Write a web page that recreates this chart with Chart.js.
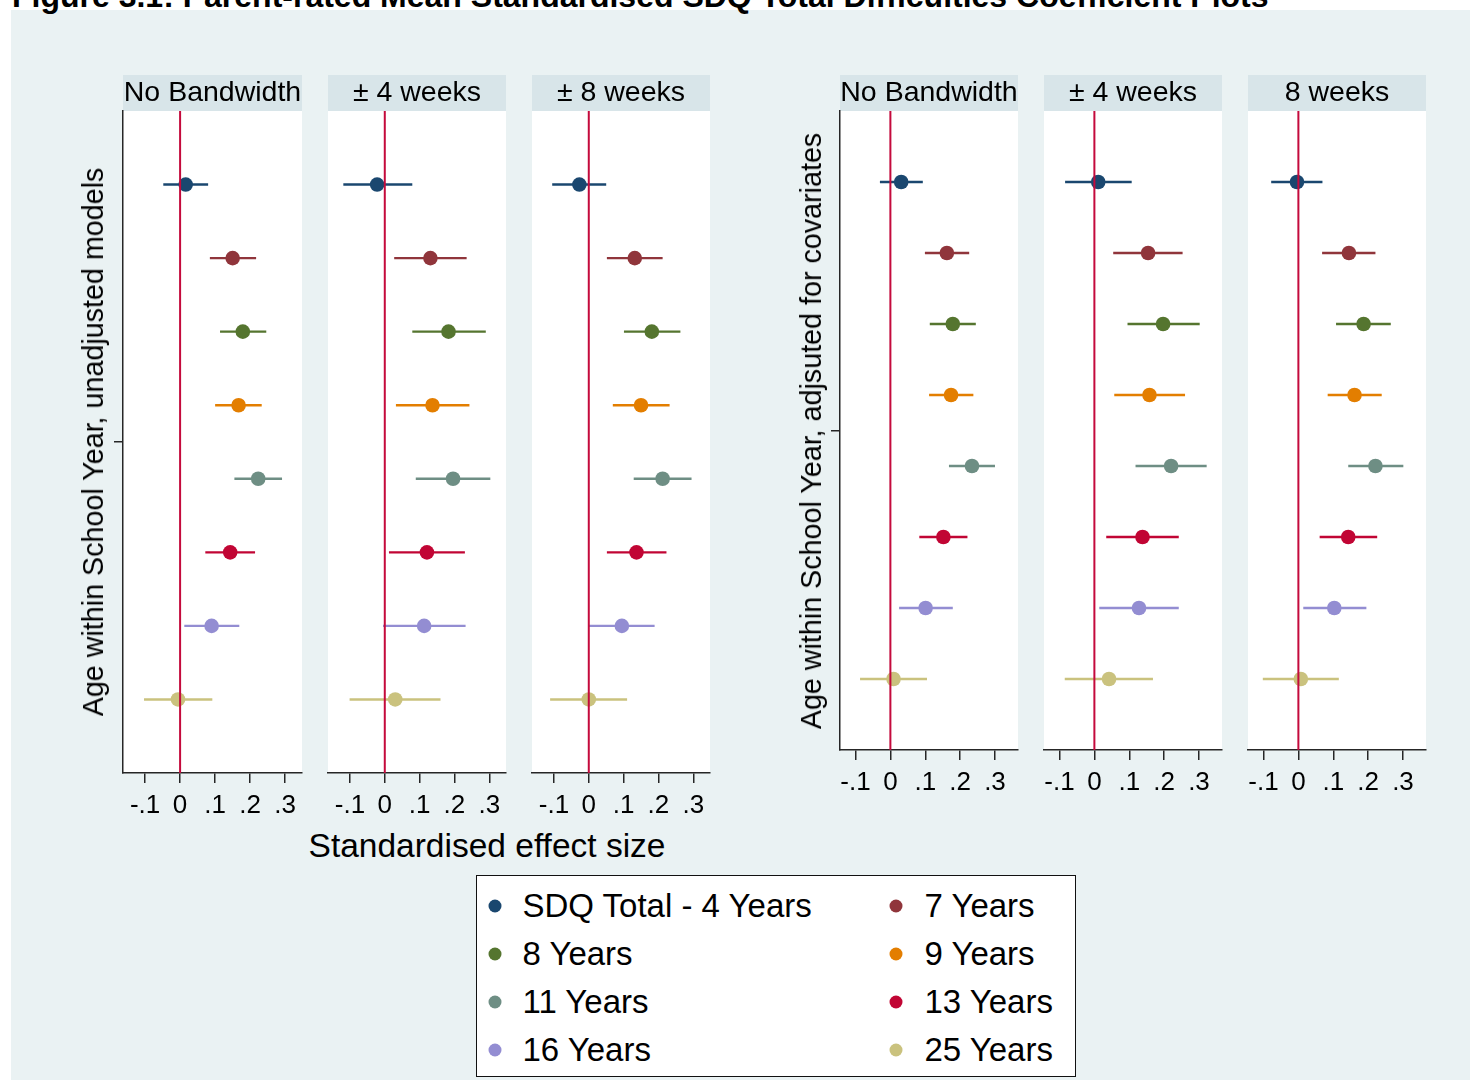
<!DOCTYPE html>
<html>
<head>
<meta charset="utf-8">
<title>Parent-rated Mean Standardised SDQ Total Difficulties Coefficient Plots</title>
<script src="https://cdn.jsdelivr.net/npm/chart.js@4.4.1/dist/chart.umd.min.js"></script>
<style>
  html, body { margin: 0; padding: 0; width: 1470px; height: 1080px; overflow: hidden; background: #ffffff;
    font-family: "Liberation Sans", Arial, Helvetica, sans-serif; color: #000; }
  #bg { position: absolute; left: 11px; top: 10px; width: 1459px; height: 1070px; background: #eaf2f3; }
  #title { position: absolute; left: 12px; top: -20px; font-weight: bold; font-size: 32px; line-height: 32px; white-space: nowrap; }
  canvas { position: absolute; }
  .ytitle { position: absolute; font-size: 28.7px; line-height: 30px; white-space: nowrap;
    transform: translate(-50%, -50%) rotate(-90deg); }
  #xtitle { position: absolute; left: 487px; top: 846px; font-size: 33.5px; line-height: 36px; white-space: nowrap;
    transform: translate(-50%, -50%); }
  #legend { position: absolute; left: 476px; top: 875px; width: 600px; height: 202px; box-sizing: border-box;
    border: 1.5px solid #111; background: #ffffff; }
  .key { position: absolute; font-size: 33px; line-height: 36px; white-space: nowrap; transform: translateY(-50%); }
  .dot { position: absolute; width: 13px; height: 13px; border-radius: 50%; transform: translate(-50%, -50%); }
</style>
</head>
<body>
<div id="bg"></div>
<div id="title">Figure 3.1: Parent-rated Mean Standardised SDQ Total Difficulties Coefficient Plots</div>

<canvas id="u0"></canvas><canvas id="u1"></canvas><canvas id="u2"></canvas>
<canvas id="a0"></canvas><canvas id="a1"></canvas><canvas id="a2"></canvas>

<div class="ytitle" style="left:93px; top:442px;">Age within School Year, unadjusted models</div>
<div class="ytitle" style="left:811px; top:431px;">Age within School Year, adjsuted for covariates</div>
<div id="xtitle">Standardised effect size</div>
<div id="legend"></div>

<script>
// Cohorts (outcome age) shown as rows, top to bottom
const cohorts = ['SDQ Total - 4 Years', '7 Years', '8 Years', '9 Years', '11 Years', '13 Years', '16 Years', '25 Years'];

// Strip titles
const unadjTitles = ['No Bandwidth', '\u00b1 4 weeks', '\u00b1 8 weeks'];
const adjTitles = ['No Bandwidth', '\u00b1 4 weeks', '8 weeks'];

// x-axis ticks
const tickValues = [-0.1, 0, 0.1, 0.2, 0.3];
const tickLabels = ['-.1', '0', '.1', '.2', '.3'];

// Unadjusted models: point estimates and 95% CI
const unadjNoBwEst = [0.016, 0.150, 0.179, 0.167, 0.223, 0.143, 0.090, -0.006];
const unadjNoBwLo  = [-0.048, 0.085, 0.114, 0.100, 0.155, 0.072, 0.012, -0.103];
const unadjNoBwHi  = [0.080, 0.217, 0.246, 0.233, 0.291, 0.214, 0.169, 0.092];

const unadj4wEst = [-0.022, 0.131, 0.183, 0.137, 0.196, 0.121, 0.113, 0.030];
const unadj4wLo  = [-0.119, 0.027, 0.079, 0.032, 0.089, 0.012, -0.005, -0.101];
const unadj4wHi  = [0.079, 0.235, 0.290, 0.243, 0.303, 0.230, 0.232, 0.160];

const unadj8wEst = [-0.027, 0.132, 0.181, 0.150, 0.212, 0.137, 0.095, 0.000];
const unadj8wLo  = [-0.105, 0.052, 0.101, 0.069, 0.129, 0.052, 0.000, -0.111];
const unadj8wHi  = [0.050, 0.212, 0.263, 0.232, 0.295, 0.223, 0.189, 0.110];

// Models adjusted for covariates
const adjNoBwEst = [0.031, 0.162, 0.179, 0.174, 0.234, 0.152, 0.101, 0.009];
const adjNoBwLo  = [-0.030, 0.099, 0.113, 0.111, 0.168, 0.083, 0.025, -0.087];
const adjNoBwHi  = [0.093, 0.226, 0.245, 0.238, 0.300, 0.221, 0.179, 0.105];

const adj4wEst = [0.011, 0.154, 0.197, 0.158, 0.220, 0.138, 0.128, 0.042];
const adj4wLo  = [-0.084, 0.054, 0.095, 0.057, 0.118, 0.034, 0.014, -0.085];
const adj4wHi  = [0.107, 0.253, 0.302, 0.260, 0.322, 0.242, 0.242, 0.168];

const adj8wEst = [-0.004, 0.145, 0.187, 0.161, 0.221, 0.143, 0.103, 0.007];
const adj8wLo  = [-0.078, 0.068, 0.108, 0.084, 0.143, 0.061, 0.014, -0.102];
const adj8wHi  = [0.069, 0.221, 0.265, 0.239, 0.301, 0.226, 0.195, 0.116];

// Stata s2color palette
const colours = ['#1a476f', '#90353b', '#55752f', '#e37e00', '#6e8e84', '#c10534', '#938dd2', '#cac27e'];
const refLineColour = '#c40a3c';
const axisColour = '#262626';
const stripColour = '#d8e5e9';
const fontFamily = '"Liberation Sans", Arial, Helvetica, sans-serif';

// White plot region plus the title strip above it
const panelDecor = {
  id: 'panelDecor',
  beforeDraw(chart, args, opts) {
    const { ctx, chartArea: a } = chart;
    ctx.save();
    ctx.fillStyle = '#ffffff';
    ctx.fillRect(a.left, a.top, a.right - a.left, a.bottom - a.top);
    ctx.fillStyle = stripColour;
    ctx.fillRect(a.left, a.top - opts.stripHeight, a.right - a.left, opts.stripHeight);
    ctx.fillStyle = '#000000';
    ctx.font = '28.5px ' + fontFamily;
    ctx.textAlign = 'center';
    ctx.textBaseline = 'middle';
    ctx.fillText(opts.text, (a.left + a.right) / 2, a.top - 18);
    ctx.restore();
  }
};

const STRIP_TOP = 75, STRIP_H = 36, Y_GUTTER = 20, X_AXIS_H = 54, RIGHT_PAD = 20;

function makePanel(id, box, est, lo, hi, title, showYAxis) {
  const cv = document.getElementById(id);
  const w = box.right - box.left + Y_GUTTER + RIGHT_PAD;
  const h = box.bottom - STRIP_TOP + X_AXIS_H;
  cv.width = w; cv.height = h;
  cv.style.left = (box.left - Y_GUTTER) + 'px';
  cv.style.top = STRIP_TOP + 'px';
  cv.style.width = w + 'px';
  cv.style.height = h + 'px';

  const datasets = [];
  datasets.push({
    data: [{ x: 0, y: 0 }, { x: 0, y: cohorts.length + 1 }],
    showLine: true, borderColor: refLineColour, borderWidth: 2, pointRadius: 0, order: 0
  });
  cohorts.forEach((c, i) => {
    datasets.push({
      data: [{ x: lo[i], y: i + 1 }, { x: hi[i], y: i + 1 }],
      showLine: true, borderColor: colours[i], borderWidth: 2.4, pointRadius: 0, order: 2
    });
  });
  datasets.push({
    data: est.map((v, i) => ({ x: v, y: i + 1 })),
    pointBackgroundColor: colours, pointBorderWidth: 0, pointRadius: 7.3, order: 1
  });

  new Chart(cv, {
    type: 'scatter',
    data: { datasets },
    options: {
      responsive: false, animation: false, events: [], devicePixelRatio: 1,
      layout: { padding: { top: STRIP_H, right: RIGHT_PAD, left: 0, bottom: 0 } },
      plugins: { legend: { display: false }, tooltip: { enabled: false },
        panelDecor: { text: title, stripHeight: STRIP_H } },
      scales: {
        x: {
          type: 'linear', min: box.xMin, max: box.xMax,
          afterBuildTicks: s => { s.ticks = tickValues.map(v => ({ value: v })); },
          afterFit: s => { s.height = X_AXIS_H; },
          ticks: { autoSkip: false, maxRotation: 0, padding: 6.8, color: '#000',
            font: { family: fontFamily, size: 26 },
            callback: (v, i) => tickLabels[i] },
          grid: { drawOnChartArea: false, drawTicks: true, tickLength: 10, color: axisColour, lineWidth: 1.5 },
          border: { display: true, color: axisColour, width: 1.5 }
        },
        y: {
          type: 'linear', min: 0, max: cohorts.length + 1, reverse: true,
          afterBuildTicks: s => { s.ticks = [{ value: (cohorts.length + 1) / 2 }]; },
          afterFit: s => { s.width = Y_GUTTER; },
          ticks: { display: false },
          grid: { display: showYAxis, drawOnChartArea: false, drawTicks: true, tickLength: 9,
            color: axisColour, lineWidth: 1.5 },
          border: { display: showYAxis, color: axisColour, width: 1.5 }
        }
      }
    },
    plugins: [panelDecor]
  });
}

const unadjX = { xMin: -0.163, xMax: 0.348 };
const adjX = { xMin: -0.1445, xMax: 0.366 };

makePanel('u0', { left: 123, right: 302, bottom: 773, ...unadjX }, unadjNoBwEst, unadjNoBwLo, unadjNoBwHi, unadjTitles[0], true);
makePanel('u1', { left: 328, right: 506, bottom: 773, ...unadjX }, unadj4wEst, unadj4wLo, unadj4wHi, unadjTitles[1], false);
makePanel('u2', { left: 532, right: 710, bottom: 773, ...unadjX }, unadj8wEst, unadj8wLo, unadj8wHi, unadjTitles[2], false);
makePanel('a0', { left: 840, right: 1018, bottom: 750, ...adjX }, adjNoBwEst, adjNoBwLo, adjNoBwHi, adjTitles[0], true);
makePanel('a1', { left: 1044, right: 1222, bottom: 750, ...adjX }, adj4wEst, adj4wLo, adj4wHi, adjTitles[1], false);
makePanel('a2', { left: 1248, right: 1426, bottom: 750, ...adjX }, adj8wEst, adj8wLo, adj8wHi, adjTitles[2], false);

// Legend: two columns, four rows
const legend = document.getElementById('legend');
const rowY = [29.5, 78, 126.3, 174];
const colDot = [17.7, 419];
const colText = [45.5, 447.5];
cohorts.forEach((c, i) => {
  const col = i % 2, row = Math.floor(i / 2);
  const d = document.createElement('div');
  d.className = 'dot';
  d.style.left = colDot[col] + 'px';
  d.style.top = rowY[row] + 'px';
  d.style.background = colours[i];
  legend.appendChild(d);
  const t = document.createElement('div');
  t.className = 'key';
  t.style.left = colText[col] + 'px';
  t.style.top = rowY[row] + 'px';
  t.textContent = c;
  legend.appendChild(t);
});
</script>
</body>
</html>
